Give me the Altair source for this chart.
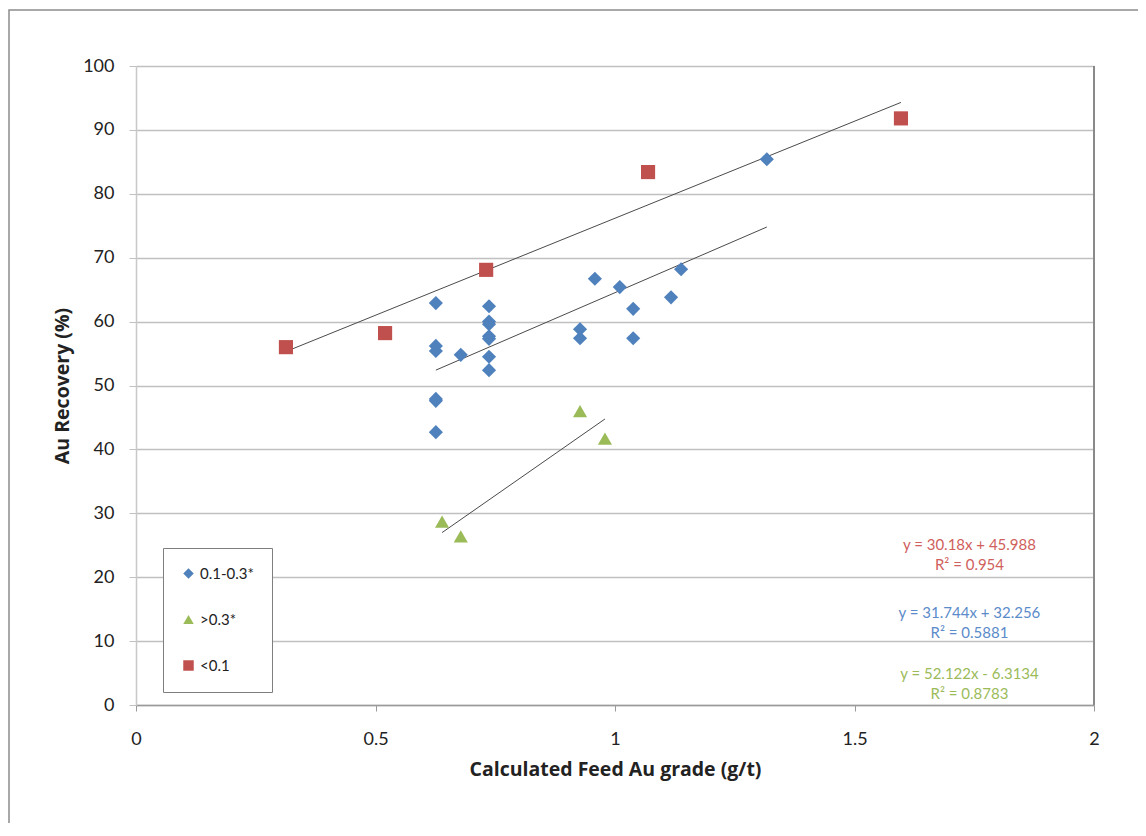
import altair as alt
import pandas as pd

# ---- data ----
blue_x = [0.626, 0.626, 0.626, 0.626, 0.626, 0.626, 0.678, 0.737, 0.737, 0.737, 0.737, 0.737,
          0.737, 0.737, 0.927, 0.927, 0.958, 1.010, 1.038, 1.038, 1.117, 1.138, 1.317]
blue_y = [62.9, 56.2, 55.4, 47.9, 47.6, 42.7, 54.8, 62.4, 60.0, 59.6, 57.7, 57.3,
          54.5, 52.4, 58.8, 57.4, 66.7, 65.4, 62.0, 57.4, 63.8, 68.2, 85.4]
green_x = [0.639, 0.678, 0.927, 0.979]
green_y = [28.7, 26.4, 46.0, 41.7]
red_x = [0.313, 0.520, 0.731, 1.069, 1.597]
red_y = [56.0, 58.2, 68.1, 83.4, 91.8]

series_names = ["0.1-0.3*", ">0.3*", "<0.1"]
series_colors = ["#4F81BD", "#9BBB59", "#C0504D"]
series_shapes = ["diamond", "triangle-up", "square"]

eq_texts = ["y = 30.18x + 45.988\nR² = 0.954",
            "y = 31.744x + 32.256\nR² = 0.5881",
            "y = 52.122x - 6.3134\nR² = 0.8783"]
eq_colors = ["#D0605C", "#5B8BC9", "#9BBB59"]
eq_x = [1.74, 1.74, 1.74]
eq_y = [25.0, 14.4, 4.9]

y_ticks = list(range(0, 101, 10))
x_ticks = [0, 0.5, 1, 1.5, 2]

FONT = "Lato"
TFONT = "Open Sans"

rows = []
for name, xs, ys in [(series_names[0], blue_x, blue_y),
                     (series_names[1], green_x, green_y),
                     (series_names[2], red_x, red_y)]:
    for a, b in zip(xs, ys):
        rows.append({"x": a, "y": b, "series": name})
df = pd.DataFrame(rows)

ann = pd.DataFrame({"ax": eq_x, "ay": eq_y, "txt": eq_texts, "col": eq_colors})

xscale = alt.Scale(domain=[0, 2], nice=False, zero=True)
yscale = alt.Scale(domain=[0, 100], nice=False)

xax = alt.Axis(values=x_ticks, title="Calculated Feed Au grade (g/t)", grid=False,
               domainColor="#9a9a9a", domainWidth=1.5, tickColor="#9a9a9a", tickSize=6,
               labelFontSize=18, labelPadding=19, labelColor="#222222", labelFont=FONT,
               labelFlush=False,
               titleFont=TFONT, titleFontSize=19.5, titleFontWeight="bold", titleColor="#222222",
               titlePadding=12, labelExpr="datum.value == 0 ? '0' : format(datum.value, '~g')")
yax = alt.Axis(values=y_ticks, title="Au Recovery (%)", grid=True, gridColor="#c0c0c0",
               gridWidth=1.3, domainColor="#c8c8c8", domainWidth=1.5, tickColor="#c0c0c0",
               tickSize=7, labelFontSize=18, labelPadding=15, labelColor="#222222",
               labelFont=FONT, titleFont=TFONT, titleFontSize=19.5, titleFontWeight="bold",
               titleColor="#222222", titlePadding=10)

base = alt.Chart(df)

points = base.mark_point(filled=True, opacity=1, size=200).encode(
    x=alt.X("x:Q", scale=xscale, axis=xax),
    y=alt.Y("y:Q", scale=yscale, axis=yax),
    color=alt.Color("series:N", scale=alt.Scale(domain=series_names, range=series_colors),
                    title=None,
                    legend=alt.Legend(orient="none", legendX=27, legendY=482, padding=18,
                                      rowPadding=30, strokeColor="#7f7f7f", fillColor="white",
                                      symbolSize=110, labelFontSize=15, labelFont=FONT,
                                      labelColor="#222222", labelOffset=4, symbolStrokeWidth=0)),
    shape=alt.Shape("series:N", scale=alt.Scale(domain=series_names, range=series_shapes),
                    title=None),
)

trend = base.transform_regression("x", "y", groupby=["series"]).mark_line(
    color="#4a4a4a", strokeWidth=1).encode(
    x=alt.X("x:Q", scale=xscale),
    y=alt.Y("y:Q", scale=yscale),
    detail="series:N",
)

eqs = alt.Chart(ann).mark_text(fontSize=15, font=FONT, lineBreak="\n", lineHeight=20,
                               align="center", baseline="middle").encode(
    x=alt.X("ax:Q", scale=xscale),
    y=alt.Y("ay:Q", scale=yscale),
    text="txt:N",
    color=alt.Color("col:N", scale=None),
)

right_edge = alt.Chart(pd.DataFrame({"rx": [2]})).mark_rule(
    color="#8a8a8a", strokeWidth=2).encode(x=alt.X("rx:Q", scale=xscale))

frame = alt.Chart(pd.DataFrame({"k": [0]})).mark_rect(
    fill="transparent", stroke="#8c8c8c", strokeWidth=1.5).encode(
    x=alt.value(-127), x2=alt.value(1300), y=alt.value(-56), y2=alt.value(1000))

chart = alt.layer(frame, trend, points, eqs, right_edge).properties(
    width=958, height=639,
    autosize=alt.AutoSizeParams(type="none"),
    padding={"left": 128, "top": 58, "right": 44, "bottom": 118},
    background="white",
).configure_view(stroke=None)

chart.save("out.html", embed_options={"renderer": "svg", "actions": False})
